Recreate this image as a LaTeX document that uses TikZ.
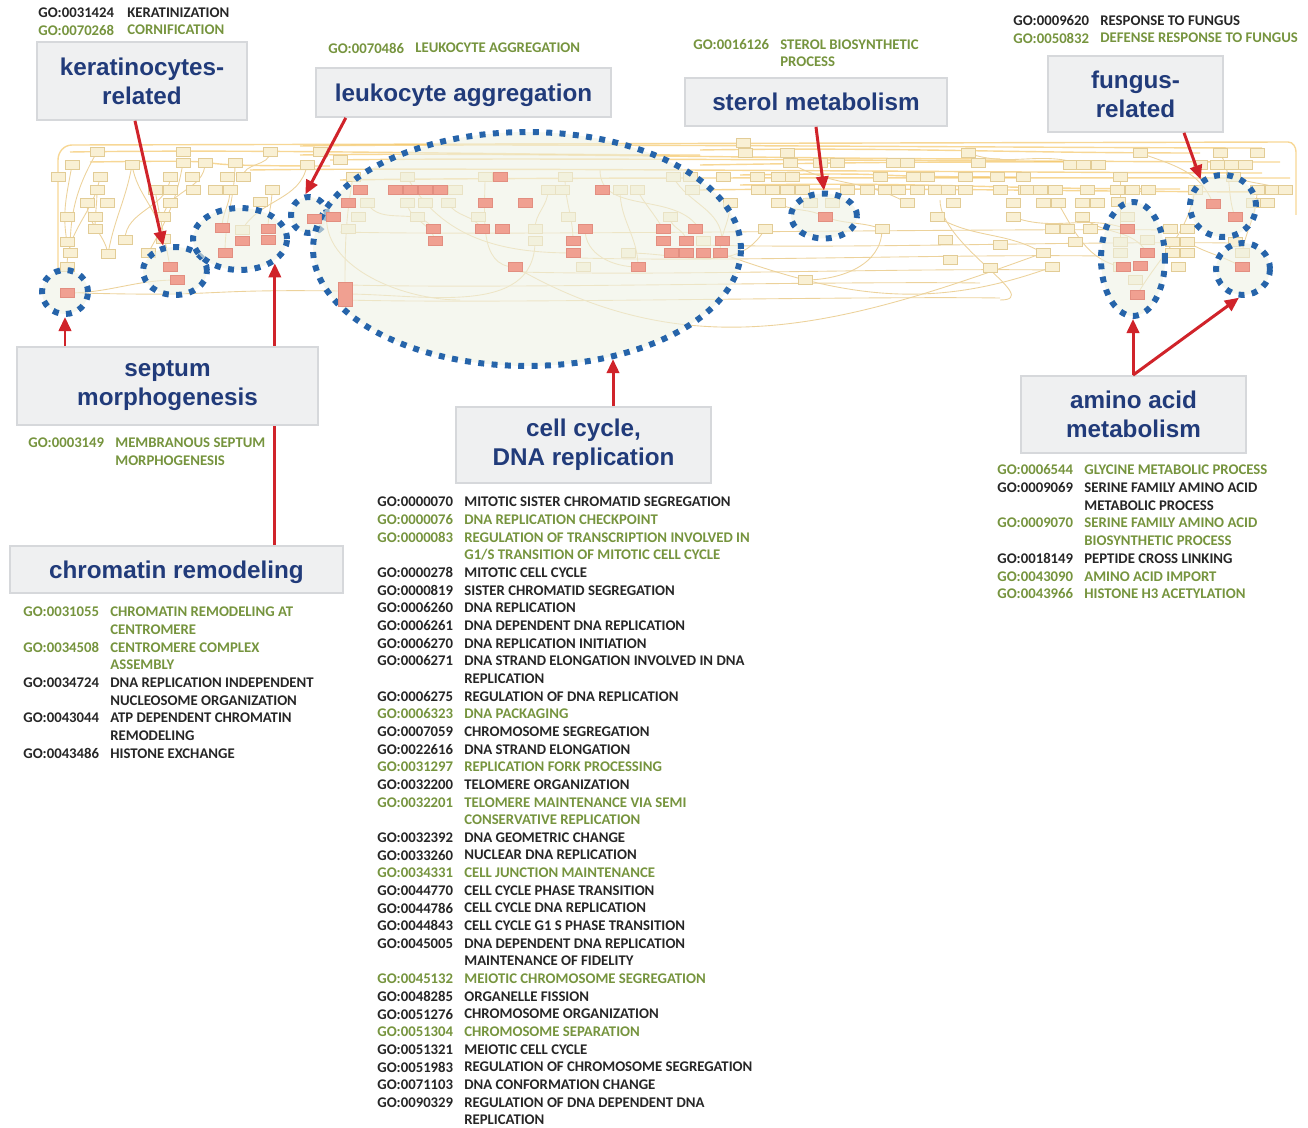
\documentclass[tikz,border=0pt]{standalone}
\usepackage{fontspec}
\setmainfont{Carlito}
\newfontfamily\labelfont{Liberation Sans}
\usetikzlibrary{arrows.meta, shapes.geometric}

\definecolor{navy}{RGB}{33,59,122}
\definecolor{goGreen}{RGB}{118,148,62}
\definecolor{boxFill}{RGB}{239,240,241}
\definecolor{boxLine}{RGB}{214,216,219}
\definecolor{arrowRed}{RGB}{208,35,42}
\definecolor{dotBlue}{RGB}{38,100,170}
\definecolor{ovalFill}{RGB}{238,242,228}
\definecolor{netBeige}{RGB}{249,240,212}
\definecolor{netBeigeLine}{RGB}{226,204,150}
\definecolor{netPink}{RGB}{240,160,145}
\definecolor{netPinkLine}{RGB}{226,142,128}
\definecolor{netOrange}{RGB}{240,182,62}
\definecolor{netThin}{RGB}{236,210,155}

\tikzset{
  groupbox/.style={draw=boxLine, line width=1pt, fill=boxFill, align=center, inner sep=0pt,
    font=\labelfont\bfseries\fontsize{13.8}{16.5}\selectfont, text=navy},
  oval/.style 2 args={ellipse, inner sep=0pt, minimum width=#1*0.569pt, minimum height=#2*0.569pt,
    fill=ovalFill, fill opacity=0.6, draw=dotBlue, line width=3.4pt, dash pattern=on 3.4pt off 4.2pt},
  redarrow/.style={draw=arrowRed, line width=1.7pt, -{Triangle[length=8pt,width=7pt]}},
  goid/.style={anchor=west, inner sep=0pt, font=\bfseries\fontsize{8.4}{10}\selectfont},
  gok/.style={text=black!85},
  gog/.style={text=goGreen},
  netbox/.style={fill=netBeige, draw=netBeigeLine, line width=0.4pt},
  netpink/.style={fill=netPink, draw=netPinkLine, line width=0.4pt},
  netheavy/.style={draw=netOrange, line width=0.8pt, opacity=0.55},
  netthin/.style={draw=netThin, line width=0.5pt}
}

\begin{document}
\begin{tikzpicture}[x=0.02cm, y=-0.02cm]
\useasboundingbox (0,0) rectangle (1308,1128);

% network of GO terms
\draw[netheavy] (58,268) -- (58,160) to[out=90,in=180] (72,145) -- (1288,142) to[out=0,in=90] (1296,152) -- (1296,215);
\foreach \y/\a/\b/\d in {146/300/1262/2, 150/700/1200/3, 155/300/1000/4, 160/330/1280/2, 165/700/1100/-3,
    170/250/1262/3, 175/740/1020/2, 180/340/1290/-2, 185/740/1180/4, 190/700/1290/2, 152/70/700/3, 162/90/330/4}
  \draw[netheavy] (\a,\y) .. controls (\a+200,\y-3) and (\b-200,\y+\d) .. (\b,\y+\d);
\foreach \ya/\a/\b in {232/340/1170, 245/700/1230, 258/580/1100, 272/520/1050, 285/350/980, 293/80/340, 300/345/1000}
  \draw[netthin] (\a,\ya) .. controls (\a+150,\ya+4) and (\b-150,\ya-4) .. (\b,\ya-2);
\foreach \xa/\ya/\xb/\yb/\o/\i in {72/165/67/242/-100/100, 97/152/70/253/-120/90, 132/165/108/254/-100/80,
    132/165/163/239/-80/100, 183/163/148/253/-100/60, 205/163/163/217/-90/80, 235/163/225/253/-90/90,
    270/152/243/177/-90/90, 100/177/67/267/-100/90, 170/177/125/240/-90/90, 97/190/95/229/-90/90,
    155/190/170/267/-80/100, 230/190/222/228/-90/90, 272/190/268/229/-90/90, 307/165/242/230/-100/60,
    87/203/108/254/-90/100, 67/293/177/280/0/180, 353/177/345/294/-100/90, 367/203/433/229/-60/120,
    407/203/435/241/-80/100, 448/203/482/229/-60/120, 485/177/515/267/-90/180, 407/177/573/253/-60/180,
    565/177/573/241/-90/90, 548/190/535/229/-90/90, 620/190/638/267/-90/90, 637/190/663/229/-60/120,
    670/217/686/241/-90/90, 673/177/722/241/-60/90, 730/203/720/253/-90/90, 585/229/638/267/-90/180,
    535/241/345/294/-90/0, 628/253/765/229/0/-120, 515/267/1043/253/-30/200, 720/253/1052/267/-20/200,
    778/203/825/217/-30/150, 825/217/882/229/-20/160, 882/229/805/280/-90/0, 937/217/1043/253/-30/150,
    1013/217/1127/229/-20/160, 1082/217/1147/253/-40/120, 1120/177/1120/242/-90/90, 1140/153/1213/204/-20/110,
    1220/153/1235/217/-60/110, 1187/242/1242/267/-30/150, 1257/190/1242/253/-90/80, 1195/190/1137/295/-100/60,
    1058/203/1123/267/-60/170, 1233/177/1285/190/-20/160, 790/163/907/203/-30/150, 968/153/1083/165/-20/160,
    600/170/700/230/-90/120, 330/200/460/300/-110/180, 940/200/1000/300/-90/0}
  \draw[netthin] (\xa,\ya) to[out=\o,in=\i] (\xb,\yb);
\foreach \x/\y in {97/152, 183/152, 270/152, 72/165, 132/165, 183/163, 205/163, 235/163, 307/165, 58/177,
    100/177, 170/177, 192/177, 227/177, 243/177, 97/190, 155/190, 170/190, 193/190, 215/190, 230/190, 272/190,
    87/203, 107/203, 170/203, 260/202, 67/217, 95/217, 163/217, 95/229, 67/242, 125/240, 163/239, 70/253,
    108/254, 148/253, 67/267, 242/230, 320/152, 340/160,
    353/177, 407/177, 485/177, 367/203, 407/203, 425/203, 448/203, 455/190, 358/217, 417/217, 478/217,
    348/229, 565/177, 548/190, 562/190, 620/190, 637/190, 568/217, 670/217, 535/229, 535/241, 628/253,
    583/267, 703/241, 673/177, 690/177, 723/177, 692/190, 730/203,
    743/143, 745/153, 787/153, 968/153, 790/163, 820/163, 837/163, 893/163, 907/163, 978/163, 757/177,
    778/177, 792/177, 880/177, 913/177, 927/177, 965/177, 997/177, 1023/177, 758/190, 772/190, 787/190,
    802/190, 847/190, 867/190, 885/190, 898/190, 917/190, 935/190, 948/190, 965/190, 1000/190, 1025/190,
    778/203, 953/203, 1013/203, 907/203, 832/203, 810/203, 937/217, 1013/217, 765/229, 882/229, 805/280,
    1140/153, 1220/153, 1257/153, 1070/165, 1083/165, 1098/165, 1217/165, 1231/165, 1245/165, 1200/165,
    1120/177, 1233/177, 1027/190, 1040/190, 1055/190, 1087/190, 1117/190, 1132/190, 1148/190, 1195/190,
    1257/190, 1272/190, 1285/190, 1043/203, 1058/203, 1082/203, 1097/203, 1118/202, 1267/203, 1253/203,
    1082/217, 1127/217, 1052/229, 1067/229, 1090/229, 1170/229, 1187/229, 1075/242, 1120/242, 1147/240,
    1172/242, 1187/242, 1235/242, 1043/253, 1120/253, 1172/253, 1187/253, 1242/253, 1052/267, 1120/267,
    1178/267, 1135/280, 1000/245, 990/268, 945/240, 950/260}
  \filldraw[netbox] (\x-7,\y-4.5) rectangle (\x+7,\y+4.5);

% circled groups
\node[oval={46}{44}] (septE) at (65,292) {};
\node[oval={64}{48}] (kerE) at (175,271) {};
\node[oval={94}{62}] (chromE) at (240,239) {};
\node[oval={36}{36}] (leukE) at (309,215) {};
\node[oval={428}{234}] (ccE) at (527,249) {};
\node[oval={66}{45}] (sterE) at (824,216) {};
\node[oval={64}{114}] (aminoE) at (1133,259) {};
\node[oval={66}{62}] (fungE) at (1223,206) {};
\node[oval={54}{52}] (aminoF) at (1243,269) {};

% enriched terms
\foreach \x/\y in {222/228, 268/229, 242/241, 268/240, 225/253, 170/267, 177/280, 67/293,
    314/219, 333/217, 360/190, 348/203, 395/190, 410/190, 425/190, 440/190, 500/177, 485/203, 525/203,
    433/229, 435/241, 482/229, 502/229, 515/267, 602/190, 585/229, 573/241, 573/253, 663/229, 695/229,
    663/241, 686/241, 722/241, 671/253, 686/253, 703/253, 720/253, 638/267,
    825/217, 1127/229, 1147/253, 1123/267, 1140/266, 1137/295, 1213/204, 1235/217, 1242/267}
  \filldraw[netpink] (\x-7,\y-4.5) rectangle (\x+7,\y+4.5);
\filldraw[netpink] (338,282) rectangle (352,306);

% labels
\node[groupbox, minimum width=119.5pt, minimum height=44.3pt] (kerBox) at (142,81) {keratinocytes-\\related};
\node[groupbox, minimum width=167.9pt, minimum height=27.9pt, text depth=0pt] (leukBox) at (463.5,92.5) {leukocyte aggregation};
\node[groupbox, minimum width=149.1pt, minimum height=27.3pt, text depth=0pt] (sterBox) at (816,102) {sterol metabolism};
\node[groupbox, minimum width=99.6pt, minimum height=43.2pt] (fungBox) at (1135.5,94) {fungus-\\related};
\node[groupbox, minimum width=189.5pt, minimum height=26.7pt, text depth=0pt] (chromBox) at (176.5,569.5) {chromatin remodeling};
\node[groupbox, minimum width=145.1pt, minimum height=43.2pt] (ccBox) at (583.5,445) {cell cycle,\\DNA replication};
\node[groupbox, minimum width=128pt, minimum height=43.8pt] (aminoBox) at (1133.5,414.5) {amino acid\\metabolism};

\draw[redarrow] ([xshift=-4pt]kerBox.south) -- (kerE.115);
\draw[redarrow] ([xshift=-67pt]leukBox.south) -- (leukE.100);
\draw[redarrow] (sterBox.south) -- (sterE.north);
\draw[redarrow] ([xshift=27.6pt]fungBox.south) -- (fungE.130);
\draw[redarrow] (chromE.-35 |- chromBox.north) -- (chromE.-35);
\draw[redarrow] (ccE.-52.5 |- ccBox.north) -- (ccE.-52.5);
\draw[redarrow] (aminoE.south |- aminoBox.north) -- (aminoE.south);
\draw[redarrow] (aminoE.south |- aminoBox.north) -- (aminoF.262);

\node[groupbox, minimum width=171.3pt, minimum height=44.3pt] (septBox) at (167.5,386) {septum\\morphogenesis};
\draw[redarrow] (septE.south |- septBox.north) -- (septE.south);

% GO terms
\node[goid,gok] (kerId1) at (38,13) {GO:0031424};
\node[goid,gok] (kerTx1) at (127,13) {KERATINIZATION};
\node[goid,gog] (kerId2) at (38,30) {GO:0070268};
\node[goid,gog] (kerTx2) at (127,30) {CORNIFICATION};
\node[goid,gog] (leukId) at (328,48) {GO:0070486};
\node[goid,gog] (leukTx) at (415,48) {LEUKOCYTE AGGREGATION};
\node[goid,gog] (sterId) at (693,45) {GO:0016126};
\node[goid,gog] (sterTx1) at (780,45) {STEROL BIOSYNTHETIC};
\node[goid,gog] (sterTx2) at (780,62) {PROCESS};
\node[goid,gok] (fungId1) at (1013,21) {GO:0009620};
\node[goid,gok] (fungTx1) at (1100,21) {RESPONSE TO FUNGUS};
\node[goid,gog] (fungId2) at (1013,38) {GO:0050832};
\node[goid,gog] (fungTx2) at (1100,38) {DEFENSE RESPONSE TO FUNGUS};
\node[goid,gog] (septId) at (28,443) {GO:0003149};
\node[goid,gog] (septTx1) at (115,443) {MEMBRANOUS SEPTUM};
\node[goid,gog] (septTx2) at (115,461) {MORPHOGENESIS};

\foreach \id/\txt/\c [count=\i from 0] in {GO:0031055/CHROMATIN REMODELING AT/gog, {}/CENTROMERE/gog,
    GO:0034508/CENTROMERE COMPLEX/gog, {}/ASSEMBLY/gog, GO:0034724/DNA REPLICATION INDEPENDENT/gok,
    {}/NUCLEOSOME ORGANIZATION/gok, GO:0043044/ATP DEPENDENT CHROMATIN/gok, {}/REMODELING/gok,
    GO:0043486/HISTONE EXCHANGE/gok}
{
  \node[goid,\c] (chromId\i) at (23,612+17.66*\i) {\id};
  \node[goid,\c] (chromTx\i) at (110,612+17.66*\i) {\txt};
}

\foreach \id/\txt/\c [count=\i from 0] in {GO:0000070/MITOTIC SISTER CHROMATID SEGREGATION/gok,
    GO:0000076/DNA REPLICATION CHECKPOINT/gog, GO:0000083/REGULATION OF TRANSCRIPTION INVOLVED IN/gog,
    {}/{G1/S TRANSITION OF MITOTIC CELL CYCLE}/gog, GO:0000278/MITOTIC CELL CYCLE/gok,
    GO:0000819/SISTER CHROMATID SEGREGATION/gok, GO:0006260/DNA REPLICATION/gok,
    GO:0006261/DNA DEPENDENT DNA REPLICATION/gok, GO:0006270/DNA REPLICATION INITIATION/gok,
    GO:0006271/DNA STRAND ELONGATION INVOLVED IN DNA/gok, {}/REPLICATION/gok,
    GO:0006275/REGULATION OF DNA REPLICATION/gok, GO:0006323/DNA PACKAGING/gog,
    GO:0007059/CHROMOSOME SEGREGATION/gok, GO:0022616/DNA STRAND ELONGATION/gok,
    GO:0031297/REPLICATION FORK PROCESSING/gog, GO:0032200/TELOMERE ORGANIZATION/gok,
    GO:0032201/TELOMERE MAINTENANCE VIA SEMI/gog, {}/CONSERVATIVE REPLICATION/gog,
    GO:0032392/DNA GEOMETRIC CHANGE/gok, GO:0033260/NUCLEAR DNA REPLICATION/gok,
    GO:0034331/CELL JUNCTION MAINTENANCE/gog, GO:0044770/CELL CYCLE PHASE TRANSITION/gok,
    GO:0044786/CELL CYCLE DNA REPLICATION/gok, GO:0044843/CELL CYCLE G1 S PHASE TRANSITION/gok,
    GO:0045005/DNA DEPENDENT DNA REPLICATION/gok, {}/MAINTENANCE OF FIDELITY/gok,
    GO:0045132/MEIOTIC CHROMOSOME SEGREGATION/gog, GO:0048285/ORGANELLE FISSION/gok,
    GO:0051276/CHROMOSOME ORGANIZATION/gok, GO:0051304/CHROMOSOME SEPARATION/gog,
    GO:0051321/MEIOTIC CELL CYCLE/gok, GO:0051983/REGULATION OF CHROMOSOME SEGREGATION/gok,
    GO:0071103/DNA CONFORMATION CHANGE/gok, GO:0090329/REGULATION OF DNA DEPENDENT DNA/gok,
    {}/REPLICATION/gok}
{
  \node[goid,\c] (ccId\i) at (377,502+17.66*\i) {\id};
  \node[goid,\c] (ccTx\i) at (464,502+17.66*\i) {\txt};
}

\foreach \id/\txt/\c [count=\i from 0] in {GO:0006544/GLYCINE METABOLIC PROCESS/gog,
    GO:0009069/SERINE FAMILY AMINO ACID/gok, {}/METABOLIC PROCESS/gok,
    GO:0009070/SERINE FAMILY AMINO ACID/gog, {}/BIOSYNTHETIC PROCESS/gog,
    GO:0018149/PEPTIDE CROSS LINKING/gok, GO:0043090/AMINO ACID IMPORT/gog,
    GO:0043966/HISTONE H3 ACETYLATION/gog}
{
  \node[goid,\c] (aminoId\i) at (997,470+17.71*\i) {\id};
  \node[goid,\c] (aminoTx\i) at (1084,470+17.71*\i) {\txt};
}
\end{tikzpicture}
\end{document}
